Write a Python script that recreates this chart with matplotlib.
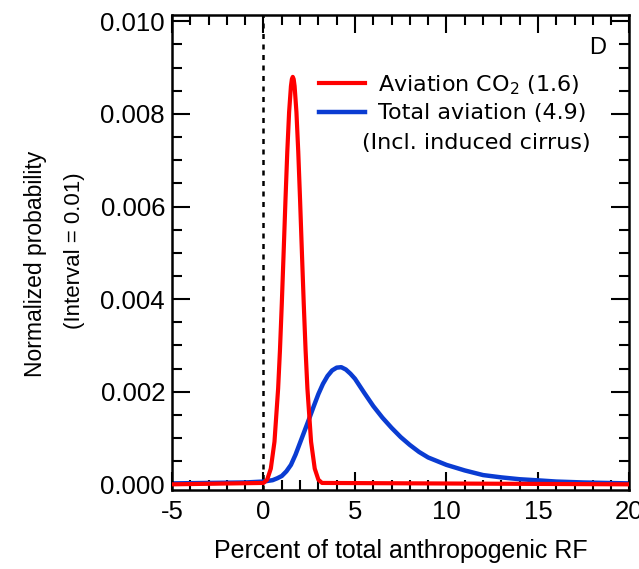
import matplotlib
matplotlib.use("Agg")
import matplotlib.pyplot as plt
from matplotlib.ticker import MultipleLocator, FormatStrFormatter

plt.rcParams['font.family'] = ['Liberation Sans', 'DejaVu Sans']
plt.rcParams['mathtext.fontset'] = 'custom'
plt.rcParams['mathtext.rm'] = 'DejaVu Sans'
plt.rcParams['axes.unicode_minus'] = False

# aviation CO2 only
x_co2 = [-5.0, 0.0, 0.2, 0.4, 0.6, 0.8, 0.9, 1.0, 1.1, 1.2, 1.3, 1.4, 1.5, 1.55,
         1.6, 1.65, 1.7, 1.8, 1.9, 2.0, 2.1, 2.2, 2.3, 2.4, 2.6, 2.8, 3.0, 3.2, 20.0]
y_co2 = [0.0, 0.00003, 0.0001, 0.00034, 0.00092, 0.00207, 0.0029, 0.0039, 0.0050,
         0.00613, 0.00718, 0.00804, 0.0086, 0.00875, 0.0088, 0.00875, 0.0086,
         0.00804, 0.00718, 0.00613, 0.0050, 0.0039, 0.0029, 0.00207, 0.00092,
         0.00034, 0.0001, 0.00003, 0.0]

# total aviation incl. induced cirrus
x_tot = [-5.0, -3.0, -1.0, 0.0, 0.5, 0.75, 1.0, 1.25, 1.5, 1.75, 2.0, 2.25, 2.5,
         2.75, 3.0, 3.25, 3.5, 3.75, 4.0, 4.25, 4.5, 4.75, 5.0, 5.5, 6.0, 6.5,
         7.0, 7.5, 8.0, 8.5, 9.0, 10.0, 11.0, 12.0, 13.0, 14.0, 15.0, 16.0,
         17.5, 20.0]
y_tot = [0.00002, 0.00003, 0.00004, 0.00006, 0.00009, 0.00013, 0.00018, 0.00028,
         0.00042, 0.00064, 0.0009, 0.00116, 0.00142, 0.00169, 0.00195, 0.00217,
         0.00234, 0.00246, 0.00252, 0.00253, 0.00248, 0.00239, 0.00228, 0.00198,
         0.00169, 0.00144, 0.00122, 0.00102, 0.00085, 0.0007, 0.00058, 0.00042,
         0.0003, 0.0002, 0.00015, 0.00011, 0.000086, 0.00006, 0.00004, 0.00002]

labels = ['Aviation CO$_2$ (1.6)', 'Total aviation (4.9)']
colors = ['#ff0000', '#0a3cd2']

fig = plt.figure(figsize=(6.39, 5.69), dpi=100)
ax = fig.add_axes([0.2692, 0.1388, 0.7158, 0.8348])

ax.axvline(0, color='black', lw=1.8, ls=(0, (2, 2.2)), zorder=1)
ax.plot(x_co2, y_co2, color=colors[0], lw=3, label=labels[0], zorder=3)
ax.plot(x_tot, y_tot, color=colors[1], lw=3.2, label=labels[1], zorder=2,
        solid_joinstyle='round')

ax.set_xlim(-5, 20)
ax.set_ylim(-0.000123, 0.010136)
ax.xaxis.set_major_locator(MultipleLocator(5))
ax.xaxis.set_minor_locator(MultipleLocator(1))
ax.yaxis.set_major_locator(MultipleLocator(0.002))
ax.yaxis.set_minor_locator(MultipleLocator(0.0005))
ax.yaxis.set_major_formatter(FormatStrFormatter('%.3f'))
ax.tick_params(which='both', direction='in', top=True, right=True, width=1.5)
ax.tick_params(which='major', length=13, labelsize=18.5)
ax.tick_params(axis='x', which='major', pad=7)
ax.tick_params(axis='y', which='major', pad=5)
ax.tick_params(which='minor', length=7)
for s in ax.spines.values():
    s.set_linewidth(1.8)

ax.set_xlabel('Percent of total anthropogenic RF', fontsize=18, labelpad=11)
fig.text(0.055, 0.536, 'Normalized probability', rotation=90, fontsize=16.5,
         ha='center', va='center')
fig.text(0.116, 0.559, '(Interval = 0.01)', rotation=90, fontsize=16,
         ha='center', va='center')

leg = ax.legend(loc='upper left', bbox_to_anchor=(0.277, 0.92), frameon=False,
                handlelength=2.1, handletextpad=0.55, labelspacing=0.3,
                prop={'family': 'DejaVu Sans', 'size': 16})
ax.text(0.915, 0.73, '(Incl. induced cirrus)', transform=ax.transAxes,
        fontsize=16, family='DejaVu Sans', ha='right', va='center')
ax.text(0.948, 0.93, 'D', transform=ax.transAxes, fontsize=17,
        ha='right', va='center')

fig.savefig('out.png', dpi=100)
